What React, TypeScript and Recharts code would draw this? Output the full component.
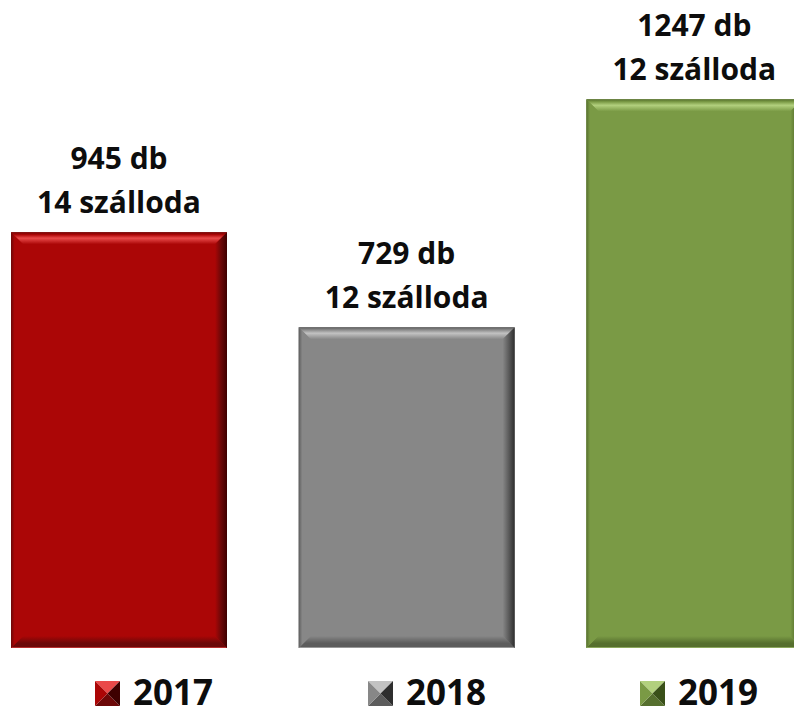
import { BarChart, Bar, XAxis, YAxis, LabelList, Legend } from 'recharts'

const years = ['2017', '2018', '2019']
const counts = [945, 729, 1247]
const hotels = [14, 12, 12]

const mainColors = ['#ab0606', '#878787', '#7a9a45']
const lightColors = ['#ea4a4a', '#c2c2c2', '#b2d07e']
const darkColors = ['#3e0000', '#2e2e2e', '#3a5019']
const shadeColors = ['#6c0808', '#5c5c5c', '#566f2e']

const data = years.map((y, i) => ({ year: y, value: counts[i], hotels: hotels[i] }))

const FONT = '"Open Sans", "Noto Sans", sans-serif'

function BevelBar(props: any) {
  const { x, y, width: w, height: h, index } = props
  if (!w || !h) return null
  const b = 12
  const i = index ?? 0
  return (
    <g>
      <rect x={x} y={y} width={w} height={h} fill={mainColors[i]} />
      <polygon
        points={`${x},${y} ${x + w},${y} ${x + w - b},${y + b} ${x + b},${y + b}`}
        fill={`url(#bevTop${i})`}
      />
      <polygon
        points={`${x},${y + h} ${x + w},${y + h} ${x + w - b},${y + h - b} ${x + b},${y + h - b}`}
        fill={`url(#bevBot${i})`}
      />
      <polygon
        points={`${x},${y} ${x + b},${y + b} ${x + b},${y + h - b} ${x},${y + h}`}
        fill={`url(#bevLeft${i})`}
      />
      <polygon
        points={`${x + w},${y} ${x + w - b},${y + b} ${x + w - b},${y + h - b} ${x + w},${y + h}`}
        fill={`url(#bevRight${i})`}
      />
    </g>
  )
}

function TwoLineLabel(props: any) {
  const { x, y, width, index } = props
  const cx = x + width / 2
  return (
    <g fontFamily={FONT} fontWeight={700} fontSize={30} fill="#0d0d0d" textAnchor="middle">
      <text x={cx} y={y - 63}>{`${counts[index]} db`}</text>
      <text x={cx} y={y - 19}>{`${hotels[index]} szálloda`}</text>
    </g>
  )
}

function Pyramid({ i, x, y }: { i: number; x: number; y: number }) {
  const s = 25
  const c = s / 2
  return (
    <g>
      <polygon points={`${x},${y} ${x + s},${y} ${x + c},${y + c}`} fill={lightColors[i]} />
      <polygon points={`${x},${y + s} ${x + s},${y + s} ${x + c},${y + c}`} fill={shadeColors[i]} />
      <polygon points={`${x},${y} ${x},${y + s} ${x + c},${y + c}`} fill={mainColors[i]} />
      <polygon points={`${x + s},${y} ${x + s},${y + s} ${x + c},${y + c}`} fill={darkColors[i]} />
    </g>
  )
}

function YearLegend() {
  const starts = [95, 368, 640]
  return (
    <svg width={794} height={46}>
      {years.map((yr, i) => (
        <g key={yr}>
          <Pyramid i={i} x={starts[i]} y={13} />
          <text
            x={starts[i] + 38}
            y={37}
            fontFamily={FONT}
            fontWeight={700}
            fontSize={35}
            fill="#0d0d0d"
          >
            {yr}
          </text>
        </g>
      ))}
    </svg>
  )
}

export default function App() {
  return (
    <div style={{ position: 'absolute', left: 0, top: 0, width: 794, height: 714, background: '#fff' }}>
      <BarChart width={794} height={714} data={data} margin={{ top: 32, right: -44, bottom: 66, left: -25 }}>
        <defs>
          {mainColors.map((m, i) => (
            <g key={i}>
              <linearGradient id={`bevTop${i}`} x1="0" y1="0" x2="0" y2="1">
                <stop offset="0%" stopColor={shadeColors[i]} />
                <stop offset="20%" stopColor={m} />
                <stop offset="50%" stopColor={lightColors[i]} />
                <stop offset="100%" stopColor={m} />
              </linearGradient>
              <linearGradient id={`bevBot${i}`} x1="0" y1="0" x2="0" y2="1">
                <stop offset="0%" stopColor={m} />
                <stop offset="60%" stopColor={shadeColors[i]} />
                <stop offset="90%" stopColor={shadeColors[i]} />
                <stop offset="100%" stopColor={lightColors[i]} />
              </linearGradient>
              <linearGradient id={`bevLeft${i}`} x1="0" y1="0" x2="1" y2="0">
                <stop offset="0%" stopColor={shadeColors[i]} />
                <stop offset="30%" stopColor={m} />
                <stop offset="100%" stopColor={m} />
              </linearGradient>
              <linearGradient id={`bevRight${i}`} x1="0" y1="0" x2="1" y2="0">
                <stop offset="0%" stopColor={m} />
                <stop offset="50%" stopColor={shadeColors[i]} />
                <stop offset="100%" stopColor={darkColors[i]} />
              </linearGradient>
            </g>
          ))}
        </defs>
        <XAxis dataKey="year" hide />
        <YAxis hide domain={[0, 1400]} />
        <Legend
          verticalAlign="middle"
          wrapperStyle={{ top: 668, left: 0, width: 794 }}
          content={() => <YearLegend />}
        />
        <Bar dataKey="value" barSize={216} shape={<BevelBar />} isAnimationActive={false}>
          <LabelList dataKey="value" content={<TwoLineLabel />} />
        </Bar>
      </BarChart>
    </div>
  )
}
